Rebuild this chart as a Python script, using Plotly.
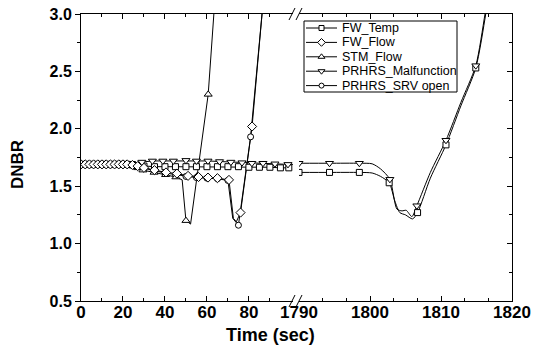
import plotly.graph_objects as go

# ---------------- data ----------------
NAMES = ["FW_Temp", "FW_Flow", "STM_Flow", "PRHRS_Malfunction", "PRHRS_SRV open"]

# left segment (0 - ~100 s)
FWT_L_T = [0, 2, 4, 6, 8, 10, 12, 14, 16, 18, 20, 22, 24.5, 27, 30, 35, 40, 45, 50, 55, 60, 65, 70, 75, 80, 85, 90, 95, 99]
FWT_L_V = [1.69, 1.69, 1.69, 1.69, 1.69, 1.69, 1.69, 1.69, 1.69, 1.69, 1.69, 1.69, 1.685, 1.68, 1.675, 1.67, 1.67,
           1.67, 1.67, 1.67, 1.67, 1.67, 1.67, 1.67, 1.665, 1.665, 1.665, 1.66, 1.66]

FWF_L_T = [0, 2, 4, 6, 8, 10, 12, 14, 16, 18, 20, 22, 24.5, 27, 30, 35, 40.5, 45.7, 51, 56, 60.5, 65, 70.5, 72.6, 74, 76, 81.5, 86.5]
FWF_L_V = [1.69, 1.69, 1.69, 1.69, 1.69, 1.69, 1.69, 1.69, 1.69, 1.69, 1.69, 1.69, 1.685, 1.675, 1.66, 1.64, 1.62,
           1.61, 1.59, 1.58, 1.575, 1.57, 1.555, 1.22, 1.19, 1.27, 2.02, 3.05]

STM_L_T = [0, 2, 4, 6, 8, 10, 12, 14, 16, 18, 20, 22, 24.5, 27, 29.5, 34.8, 40.3, 45.2, 48.2, 50, 52.2, 55.4, 60.6, 63.3, 65]
STM_L_V = [1.69, 1.69, 1.69, 1.69, 1.69, 1.69, 1.69, 1.69, 1.69, 1.69, 1.69, 1.69, 1.68, 1.66, 1.64, 1.62, 1.60,
           1.58, 1.555, 1.20, 1.17, 1.59, 2.30, 3.0, 3.3]

PM_L_T = [0, 2, 4, 6, 8, 10, 12, 14, 16, 18, 20, 22, 24, 29, 34, 39, 44, 50, 55, 60.5, 66, 71.4, 76.7, 81.4, 86.7, 92.4, 98.6, 101]
PM_L_V = [1.69, 1.69, 1.69, 1.69, 1.69, 1.69, 1.69, 1.69, 1.69, 1.69, 1.69, 1.69, 1.70, 1.71, 1.72, 1.72, 1.72,
          1.725, 1.72, 1.72, 1.715, 1.71, 1.705, 1.70, 1.70, 1.695, 1.69, 1.69]

PS_L_T = [0, 2, 4, 6, 8, 10, 12, 14, 16, 18, 20, 22, 24.5, 27, 30, 35, 40, 45, 50, 55, 60, 65, 70, 72.3, 75, 80.8, 86.5]
PS_L_V = [1.69, 1.69, 1.69, 1.69, 1.69, 1.69, 1.69, 1.69, 1.69, 1.69, 1.69, 1.69, 1.685, 1.67, 1.655, 1.635, 1.615,
          1.60, 1.585, 1.575, 1.57, 1.565, 1.55, 1.22, 1.16, 1.93, 3.05]

# right segment (1790 - 1820 s)
FWT_R_T = [1790, 1794.3, 1798.5, 1800.3, 1801.5, 1802.7, 1803.5, 1804.2, 1805.0, 1806.0, 1806.7, 1808.5, 1810.7, 1812.8, 1814.9, 1816.3, 1817]
FWT_R_V = [1.62, 1.62, 1.62, 1.615, 1.585, 1.53, 1.37, 1.27, 1.25, 1.215, 1.27, 1.57, 1.86, 2.20, 2.53, 3.0, 3.3]

PM_R_T = [1790, 1794.3, 1798.5, 1800.3, 1801.5, 1802.8, 1803.8, 1804.5, 1805.1, 1805.9, 1806.6, 1808.5, 1810.7, 1812.8, 1814.9, 1816.2, 1817]
PM_R_V = [1.70, 1.70, 1.70, 1.695, 1.65, 1.56, 1.30, 1.285, 1.29, 1.235, 1.33, 1.62, 1.90, 2.23, 2.55, 3.0, 3.3]

# indices of the data points that carry a symbol
FWT_L_MARK = list(range(len(FWT_L_T)))
FWF_L_MARK = [i for i in range(len(FWF_L_T)) if i not in (23, 24, 27)]
STM_L_MARK = [i for i in range(len(STM_L_T)) if i not in (18, 20, 23, 24)]
PM_L_MARK = list(range(len(PM_L_T) - 1))
PS_L_MARK = [i for i in range(len(PS_L_T)) if i not in (23, 26)]
FWT_R_MARK = [0, 1, 2, 5, 10, 12, 14]
PM_R_MARK = [0, 1, 2, 5, 10, 12, 14]

X_LEFT_TICKS = [0, 20, 40, 60, 80]
X_LEFT_MINOR = [10, 30, 50, 70, 90]
X_RIGHT_TICKS = [1790, 1800, 1810, 1820]
X_RIGHT_MINOR = [1793.333, 1796.667, 1803.333, 1806.667, 1813.333, 1816.667]

# ---------------- style ----------------
SYMBOL = {"FW_Temp": "square", "FW_Flow": "diamond", "STM_Flow": "triangle-up",
          "PRHRS_Malfunction": "triangle-down", "PRHRS_SRV open": "circle"}
MSIZE = {"FW_Temp": 6, "FW_Flow": 7, "STM_Flow": 7, "PRHRS_Malfunction": 7, "PRHRS_SRV open": 6}
FONT = "Arial, Liberation Sans, sans-serif"

W, H = 536, 352
L, R, T, B = 81, 512, 14, 301
PW, PH = R - L, B - T


def px(xp):
    return (xp - L) / PW


def py(yp):
    return (B - yp) / PH


series = [
    # (name, t, v, marks, xaxis, shape)
    ("PRHRS_SRV open", PS_L_T, PS_L_V, PS_L_MARK, "x", "linear"),
    ("FW_Temp", FWT_L_T, FWT_L_V, FWT_L_MARK, "x", "linear"),
    ("STM_Flow", STM_L_T, STM_L_V, STM_L_MARK, "x", "linear"),
    ("PRHRS_Malfunction", PM_L_T, PM_L_V, PM_L_MARK, "x", "linear"),
    ("FW_Flow", FWF_L_T, FWF_L_V, FWF_L_MARK, "x", "linear"),
    ("FW_Temp", FWT_R_T, FWT_R_V, FWT_R_MARK, "x2", "spline"),
    ("PRHRS_Malfunction", PM_R_T, PM_R_V, PM_R_MARK, "x2", "spline"),
]

fig = go.Figure()

for name, t, v, marks, xa, shp in series:
    fig.add_trace(go.Scatter(x=t, y=v, mode="lines", xaxis=xa, yaxis="y",
                             line=dict(color="black", width=1, shape=shp, smoothing=0.7),
                             showlegend=False, hoverinfo="skip"))
for name, t, v, marks, xa, shp in series:
    fig.add_trace(go.Scatter(x=[t[i] for i in marks], y=[v[i] for i in marks], mode="markers",
                             xaxis=xa, yaxis="y", showlegend=False, hoverinfo="skip",
                             marker=dict(symbol=SYMBOL[name], size=MSIZE[name], color="white",
                                         line=dict(color="black", width=1))))

# dummy traces so the mirrored (top/right) tick axes are drawn
fig.add_trace(go.Scatter(x=[None], y=[None], xaxis="x3", yaxis="y", showlegend=False, hoverinfo="skip"))
fig.add_trace(go.Scatter(x=[None], y=[None], xaxis="x4", yaxis="y", showlegend=False, hoverinfo="skip"))
fig.add_trace(go.Scatter(x=[None], y=[None], xaxis="x2", yaxis="y2", showlegend=False, hoverinfo="skip"))

# manual legend
LEG_X0, LEG_X1, LEG_Y0, LEG_Y1 = 304, 457, 21, 92
for i, name in enumerate(NAMES):
    yy = 7 + i * 14.4
    fig.add_trace(go.Scatter(x=[2, 33], y=[yy, yy], mode="lines", xaxis="x5", yaxis="y5",
                             line=dict(color="black", width=1), showlegend=False, hoverinfo="skip"))
    fig.add_trace(go.Scatter(x=[17.5], y=[yy], mode="markers", xaxis="x5", yaxis="y5",
                             marker=dict(symbol=SYMBOL[name], size=MSIZE[name] - 1, color="white",
                                         line=dict(color="black", width=1)),
                             showlegend=False, hoverinfo="skip"))
    fig.add_annotation(x=36, y=yy, xref="x5", yref="y5", text=name, showarrow=False,
                       xanchor="left", yanchor="middle",
                       font=dict(family=FONT, size=12.5, color="black"))

xtickfont = dict(family=FONT, size=17, color="black", weight="bold")
ytickfont = dict(family=FONT, size=16, color="black", weight="bold")
XL_DOM = [0, px(293)]
XR_DOM = [px(299), 1]

common_x = dict(showgrid=False, zeroline=False, showline=True, linecolor="black", linewidth=1,
                ticks="inside", ticklen=5, tickwidth=1, tickcolor="black", automargin=False)

fig.update_layout(
    template="none",
    width=W, height=H, margin=dict(l=L, r=W - R, t=T, b=H - B, pad=0, autoexpand=False),
    paper_bgcolor="white", plot_bgcolor="white", showlegend=False,
    xaxis=dict(domain=XL_DOM, range=[0, 101], anchor="y", tickmode="array", tickvals=X_LEFT_TICKS,
               tickfont=xtickfont, ticklabelstandoff=-4,
               minor=dict(tickmode="array", tickvals=X_LEFT_MINOR, ticks="inside", ticklen=3,
                          tickcolor="black"),
               **common_x),
    xaxis2=dict(domain=XR_DOM, range=[1790, 1820], anchor="y", tickmode="array", tickvals=X_RIGHT_TICKS,
                tickfont=xtickfont, ticklabelstandoff=-4,
                minor=dict(tickmode="array", tickvals=X_RIGHT_MINOR, ticks="inside", ticklen=3,
                           tickcolor="black"),
                **common_x),
    xaxis3=dict(overlaying="x", side="top", range=[0, 101], anchor="y", tickmode="array",
                tickvals=X_LEFT_TICKS, showticklabels=False,
                minor=dict(tickmode="array", tickvals=X_LEFT_MINOR, ticks="inside", ticklen=3,
                           tickcolor="black"),
                **common_x),
    xaxis4=dict(overlaying="x2", side="top", range=[1790, 1820], anchor="y", tickmode="array",
                tickvals=X_RIGHT_TICKS, showticklabels=False,
                minor=dict(tickmode="array", tickvals=X_RIGHT_MINOR, ticks="inside", ticklen=3,
                           tickcolor="black"),
                **common_x),
    yaxis=dict(domain=[0, 1], range=[0.5, 3.0], anchor="x", dtick=0.5, tick0=0.5, tickformat=".1f",
               ticks="outside", ticklen=5, tickwidth=1, tickcolor="black", tickfont=ytickfont,
               minor=dict(dtick=0.25, tick0=0.5, ticks="outside", ticklen=3, tickcolor="black"),
               showline=True, linecolor="black", linewidth=1, showgrid=False, zeroline=False,
               automargin=False),
    yaxis2=dict(overlaying="y", side="right", anchor="x2", range=[0.5, 3.0], dtick=0.5, tick0=0.5,
                ticks="inside", ticklen=5, tickwidth=1, tickcolor="black", showticklabels=False,
                minor=dict(dtick=0.25, tick0=0.5, ticks="inside", ticklen=3, tickcolor="black"),
                showline=True, linecolor="black", linewidth=1, showgrid=False, zeroline=False,
                automargin=False),
    xaxis5=dict(domain=[px(LEG_X0), px(LEG_X1)], range=[0, LEG_X1 - LEG_X0], anchor="y5", visible=False),
    yaxis5=dict(domain=[py(LEG_Y1), py(LEG_Y0)], range=[LEG_Y1 - LEG_Y0, 0], anchor="x5", visible=False),
)

# legend frame
fig.add_shape(type="rect", xref="paper", yref="paper", x0=px(LEG_X0), x1=px(LEG_X1),
              y0=py(LEG_Y1), y1=py(LEG_Y0), line=dict(color="black", width=1), fillcolor="rgba(0,0,0,0)")

# axis break marks
for ybase in (T, B):
    for xs in (289, 296):
        fig.add_shape(type="line", xref="paper", yref="paper", x0=px(xs), y0=py(ybase + 6),
                      x1=px(xs + 6), y1=py(ybase - 6), line=dict(color="black", width=1))

# axis titles
fig.add_annotation(x=px(270), y=py(335), xref="paper", yref="paper", text="Time (sec)", showarrow=False,
                   xanchor="center", yanchor="middle",
                   font=dict(family=FONT, size=18, color="black", weight="bold"))
fig.add_annotation(x=px(17), y=py(165), xref="paper", yref="paper", text="DNBR", showarrow=False,
                   xanchor="center", yanchor="middle",
                   textangle=-90, font=dict(family=FONT, size=17, color="black", weight="bold"))

fig.write_html("out.html", config={"displayModeBar": False},
               post_script="document.body.style.margin='0';")
